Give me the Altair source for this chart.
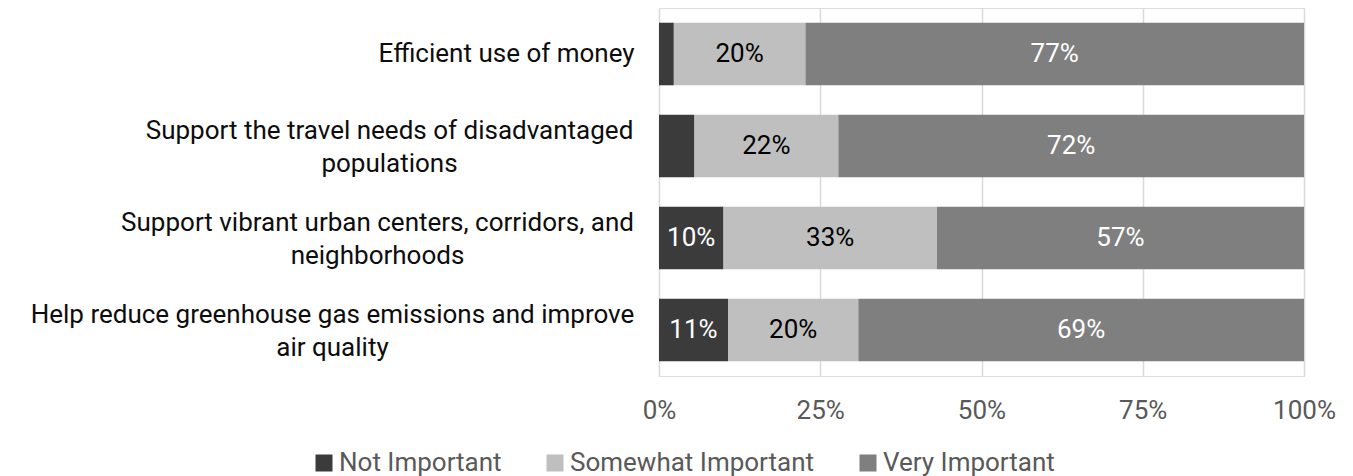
import altair as alt
import pandas as pd

categories = [
    "Efficient use of money",
    "Support the travel needs of disadvantaged|populations",
    "Support vibrant urban centers, corridors, and|neighborhoods",
    "Help reduce greenhouse gas emissions and improve|air quality",
]
series = ["Not Important", "Somewhat Important", "Very Important"]
not_important = [2.3, 5.5, 10.0, 10.7]
somewhat_important = [20.4, 22.3, 33.1, 20.2]
very_important = [77.3, 72.2, 56.9, 69.1]
tick_values = [0, 25, 50, 75, 100]

colors = ["#3b3b3b", "#bfbfbf", "#7f7f7f"]
text_colors = ["#ffffff", "#000000", "#ffffff"]

rows = []
for i, c in enumerate(categories):
    for j, (s, vals) in enumerate(zip(series, [not_important, somewhat_important, very_important])):
        rows.append({"category": c, "series": s, "order": j, "value": vals[i],
                     "tcolor": text_colors[j]})
df = pd.DataFrame(rows)

FONT = "Roboto"
FS = 26
pad_expr = ("indexof(datum.value, 'Efficient') >= 0 ? 153 : "
            "indexof(datum.value, 'travel') >= 0 ? 270 : "
            "indexof(datum.value, 'vibrant') >= 0 ? 282 : 327")
off_expr = "indexof(datum.value, '|') >= 0 ? -15 : 0"

y_enc = alt.Y(
    "category:N", sort=categories, title=None,
    scale=alt.Scale(paddingInner=0.32, paddingOuter=0.16),
    axis=alt.Axis(labelExpr="split(datum.label, '|')", labelAlign="center",
                  labelPadding={"expr": pad_expr}, labelOffset={"expr": off_expr},
                  ticks=False, domain=False,
                  labelFont=FONT, labelFontSize=FS, labelColor="#0d0d0d",
                  labelLimit=900, labelLineHeight=33, grid=False),
)

x_enc = alt.X(
    "value:Q", stack="zero", title=None,
    scale=alt.Scale(domain=[0, 100], nice=False),
    axis=alt.Axis(values=tick_values, labelExpr="datum.value + '%'",
                  grid=True, gridColor="#d9d9d9", gridWidth=1.5,
                  domain=False, ticks=False, labelPadding=21, labelFlush=False,
                  labelFont=FONT, labelFontSize=FS, labelColor="#595959"),
)

base = alt.Chart(df)

bars = base.mark_bar().encode(
    x=x_enc,
    y=y_enc,
    color=alt.Color(
        "series:N", sort=series,
        scale=alt.Scale(domain=series, range=colors),
        legend=alt.Legend(title=None, orient="none", direction="horizontal",
                          legendX=-348, legendY=442, symbolType="square",
                          symbolSize=289, symbolStrokeWidth=0, labelFont=FONT,
                          labelFontSize=FS, labelColor="#595959", labelOffset=2,
                          labelLimit=0, columnPadding=40),
    ),
    order=alt.Order("order:Q"),
)

labels = base.transform_stack(
    stack="value", groupby=["category"], as_=["v0", "v1"],
    sort=[alt.SortField("order", order="ascending")],
).transform_calculate(
    mid="(datum.v0 + datum.v1) / 2",
    lab="round(datum.value) + '%'",
).transform_filter(
    "datum.value >= 8"
).mark_text(font=FONT, fontSize=FS, align="center", baseline="middle").encode(
    x=alt.X("mid:Q", scale=alt.Scale(domain=[0, 100], nice=False)),
    y=alt.Y("category:N", sort=categories),
    text="lab:N",
    color=alt.Color("tcolor:N", scale=None),
)

chart = alt.layer(bars, labels).properties(
    width=645, height=368,
    autosize=alt.AutoSizeParams(type="none"),
    padding={"left": 659, "top": 8, "right": 49, "bottom": 100},
).configure_view(stroke=None).configure(background="white")

chart.save("out.html", embed_options={"renderer": "svg", "actions": False})
